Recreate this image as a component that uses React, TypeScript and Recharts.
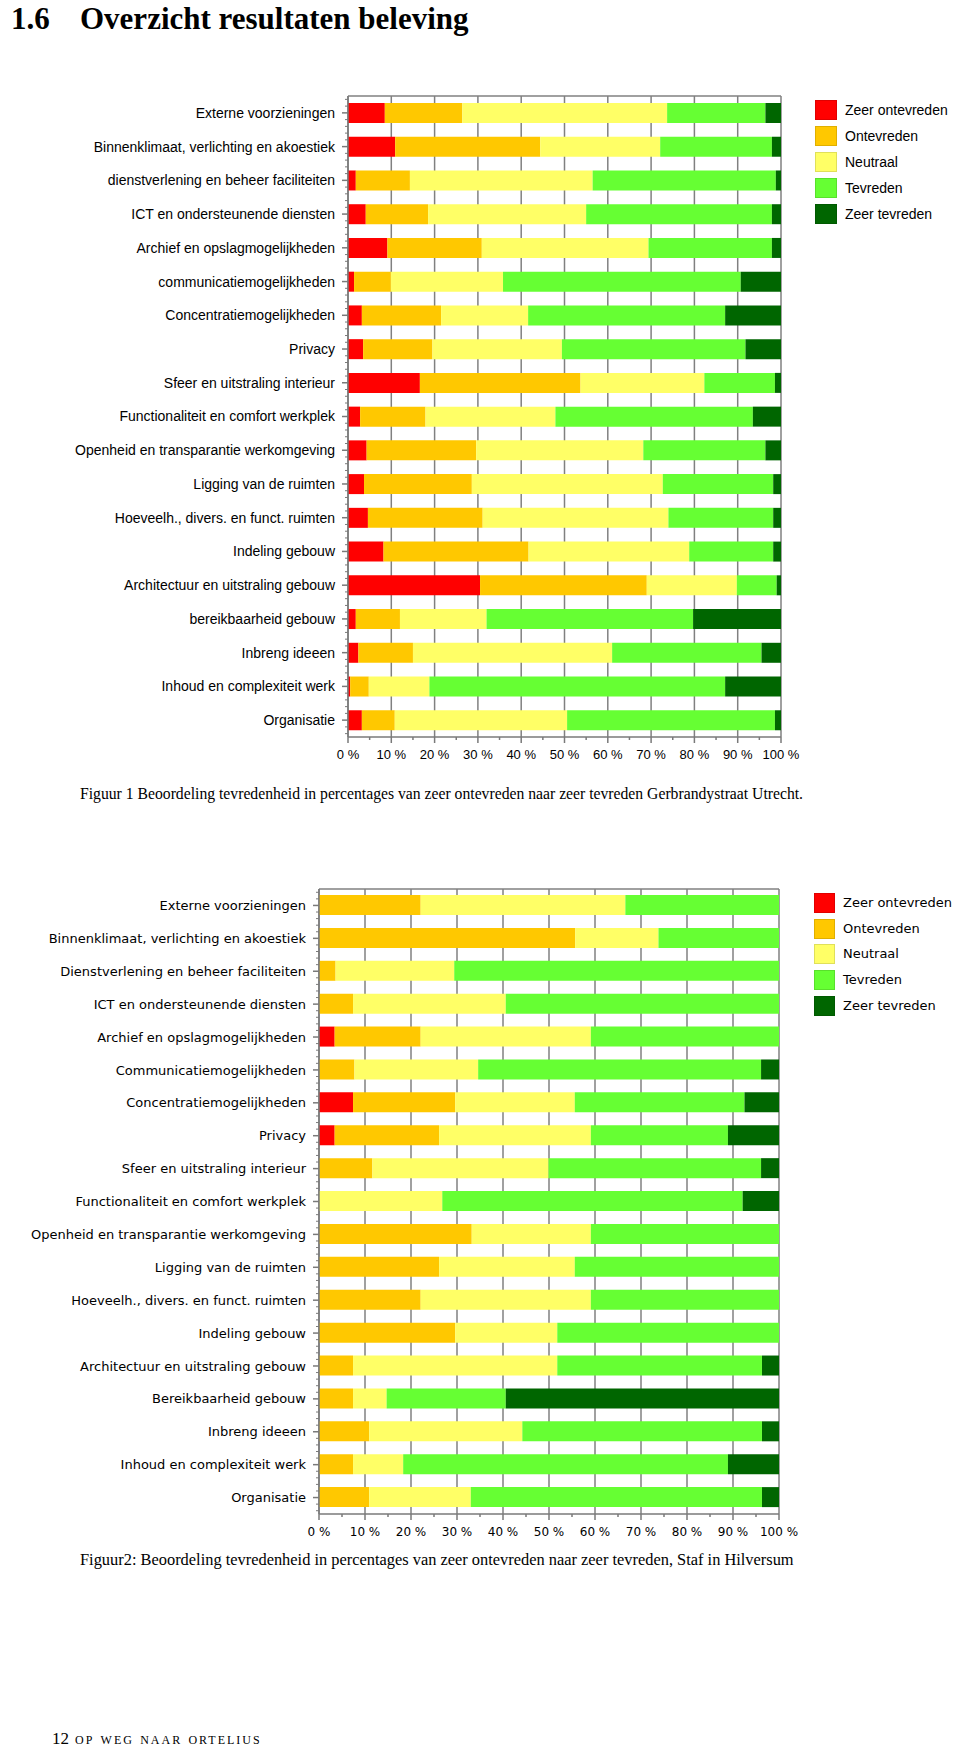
import React from 'react';
import { BarChart, Bar, XAxis, YAxis, CartesianGrid } from 'recharts';

// ---------- Data: Figuur 1 (Gerbrandystraat Utrecht) ----------
const categories1 = [
  'Externe voorzieningen',
  'Binnenklimaat, verlichting en akoestiek',
  'dienstverlening en beheer faciliteiten',
  'ICT en ondersteunende diensten',
  'Archief en opslagmogelijkheden',
  'communicatiemogelijkheden',
  'Concentratiemogelijkheden',
  'Privacy',
  'Sfeer en uitstraling interieur',
  'Functionaliteit en comfort werkplek',
  'Openheid en transparantie werkomgeving',
  'Ligging van de ruimten',
  'Hoeveelh., divers. en funct. ruimten',
  'Indeling gebouw',
  'Architectuur en uitstraling gebouw',
  'bereikbaarheid gebouw',
  'Inbreng ideeen',
  'Inhoud en complexiteit werk',
  'Organisatie',
];
const zeerOntevreden1 = [8.5, 10.9, 1.8, 4.1, 9.1, 1.4, 3.2, 3.5, 16.6, 2.8, 4.3, 3.7, 4.6, 8.2, 30.5, 1.8, 2.4, 0.5, 3.2];
const ontevreden1 = [17.9, 33.5, 12.5, 14.4, 21.8, 8.5, 18.3, 16.0, 37.1, 15.1, 25.3, 24.9, 26.5, 33.5, 38.5, 10.2, 12.6, 4.3, 7.6];
const neutraal1 = [47.3, 27.7, 42.2, 36.5, 38.5, 25.9, 20.1, 29.9, 28.6, 30.0, 38.6, 44.1, 42.9, 37.1, 20.8, 20.0, 46.0, 14.0, 39.8];
const tevreden1 = [22.7, 25.8, 42.3, 42.9, 28.5, 54.9, 45.5, 42.4, 16.3, 45.6, 28.2, 25.5, 24.2, 19.4, 9.2, 47.7, 34.5, 68.3, 48.0];
const zeerTevreden1 = [3.6, 2.1, 1.2, 2.1, 2.1, 9.3, 12.9, 8.2, 1.4, 6.5, 3.6, 1.8, 1.8, 1.8, 1.0, 20.3, 4.5, 12.9, 1.4];

// ---------- Data: Figuur 2 (Staf in Hilversum) ----------
const categories2 = [
  'Externe voorzieningen',
  'Binnenklimaat, verlichting en akoestiek',
  'Dienstverlening en beheer faciliteiten',
  'ICT en ondersteunende diensten',
  'Archief en opslagmogelijkheden',
  'Communicatiemogelijkheden',
  'Concentratiemogelijkheden',
  'Privacy',
  'Sfeer en uitstraling interieur',
  'Functionaliteit en comfort werkplek',
  'Openheid en transparantie werkomgeving',
  'Ligging van de ruimten',
  'Hoeveelh., divers. en funct. ruimten',
  'Indeling gebouw',
  'Architectuur en uitstraling gebouw',
  'Bereikbaarheid gebouw',
  'Inbreng ideeen',
  'Inhoud en complexiteit werk',
  'Organisatie',
];
const zeerOntevreden2 = [0, 0, 0, 0, 3.4, 0, 7.4, 3.4, 0, 0, 0, 0, 0, 0, 0, 0, 0, 0, 0];
const ontevreden2 = [22.1, 55.7, 3.6, 7.4, 18.7, 7.7, 22.2, 22.7, 11.6, 0, 33.2, 26.1, 22.1, 29.6, 7.4, 7.4, 10.9, 7.4, 10.9];
const neutraal2 = [44.5, 18.1, 25.8, 33.2, 37.0, 26.9, 26.0, 33.0, 38.3, 26.8, 25.9, 29.5, 37.0, 22.2, 44.4, 7.3, 33.3, 10.9, 22.1];
const tevreden2 = [33.4, 26.2, 70.6, 59.4, 40.9, 61.5, 36.9, 29.8, 46.2, 65.3, 40.9, 44.4, 40.9, 48.2, 44.5, 25.9, 52.1, 70.6, 63.3];
const zeerTevreden2 = [0, 0, 0, 0, 0, 3.9, 7.5, 11.1, 3.9, 7.9, 0, 0, 0, 0, 3.7, 59.4, 3.7, 11.1, 3.7];

// ---------- Axis ticks / series ----------
const xMajorTicks = [0, 10, 20, 30, 40, 50, 60, 70, 80, 90, 100];
const xAllTicks = [0, 5, 10, 15, 20, 25, 30, 35, 40, 45, 50, 55, 60, 65, 70, 75, 80, 85, 90, 95, 100];
const seriesNames = ['Zeer ontevreden', 'Ontevreden', 'Neutraal', 'Tevreden', 'Zeer tevreden'];
const seriesKeys = ['zo', 'o', 'n', 't', 'zt'];
const seriesColors = ['#FF0000', '#FFC800', '#FFFF66', '#66FF33', '#006600'];

const buildRows = (
  cats: string[],
  a: number[],
  b: number[],
  c: number[],
  d: number[],
  e: number[]
) => cats.map((name, i) => ({ name, zo: a[i], o: b[i], n: c[i], t: d[i], zt: e[i] }));

const rows1 = buildRows(categories1, zeerOntevreden1, ontevreden1, neutraal1, tevreden1, zeerTevreden1);
const rows2 = buildRows(categories2, zeerOntevreden2, ontevreden2, neutraal2, tevreden2, zeerTevreden2);

const AXIS_GRAY = '#7a7a7a';
const GRID_GRAY = '#808080';
const LINE_W = 1.5;

const makeXTick = (fontFamily: string, fontSize: number) => (props: any) => {
  const { x, y, payload } = props;
  const major = payload.value % 10 === 0;
  return (
    <g>
      <line x1={x} x2={x} y1={y} y2={y + (major ? 6 : 3)} stroke={AXIS_GRAY} strokeWidth={LINE_W} />
      {major && (
        <text x={x} y={y + 22} textAnchor="middle" fill="#000" fontFamily={fontFamily} fontSize={fontSize}>
          {`${payload.value} %`}
        </text>
      )}
    </g>
  );
};

const EmptyTick = () => <g />;

const TICK_SIZE = 6;
const TICK_MARGIN = 7;

const makeYTick = (fontFamily: string, fontSize: number, band: number) => (props: any) => {
  const { x, y, payload } = props;
  const ax = x + TICK_SIZE + TICK_MARGIN;
  const step = band / 5;
  return (
    <g>
      <line x1={ax - TICK_SIZE} x2={ax} y1={y} y2={y} stroke={AXIS_GRAY} strokeWidth={LINE_W} />
      {[-2, -1, 1, 2].map((k) => (
        <line key={k} x1={ax - 3} x2={ax} y1={y + k * step} y2={y + k * step} stroke={AXIS_GRAY} />
      ))}
      <text x={x} y={y} dy="0.355em" textAnchor="end" fill="#000" fontFamily={fontFamily} fontSize={fontSize}>
        {payload.value}
      </text>
    </g>
  );
};

type ChartProps = {
  rows: any[];
  n: number;
  width: number;
  height: number;
  margin: { top: number; right: number; bottom: number; left: number };
  yWidth: number;
  fontFamily: string;
  fontSize: number;
  top: number;
};

const X_AXIS_H = 30;

const StackedChart = ({ rows, n, width, height, margin, yWidth, fontFamily, fontSize, top }: ChartProps) => {
  const plotH = height - margin.top - 1 - margin.bottom - X_AXIS_H;
  const band = plotH / n;
  return (
    <div style={{ position: 'absolute', left: 0, top, width, height }}>
      <BarChart width={width} height={height} data={rows} layout="vertical" margin={margin}>
        <CartesianGrid
          xAxisId="bottom"
          yAxisId="cat"
          horizontal={false}
          stroke={GRID_GRAY}
          strokeWidth={LINE_W}
          verticalValues={xMajorTicks}
        />
        <XAxis
          xAxisId="top"
          orientation="top"
          type="number"
          domain={[0, 100]}
          ticks={xMajorTicks}
          interval={0}
          height={1}
          tickSize={0}
          tickMargin={0}
          tick={EmptyTick}
          tickLine={false}
          axisLine={{ stroke: GRID_GRAY, strokeWidth: LINE_W }}
        />
        <XAxis
          xAxisId="bottom"
          orientation="bottom"
          type="number"
          domain={[0, 100]}
          ticks={xAllTicks}
          interval={0}
          height={X_AXIS_H}
          tickSize={0}
          tickMargin={0}
          tickLine={false}
          axisLine={{ stroke: AXIS_GRAY, strokeWidth: LINE_W }}
          tick={makeXTick(fontFamily, fontSize - 1)}
        />
        <YAxis
          yAxisId="cat"
          type="category"
          dataKey="name"
          width={yWidth}
          interval={0}
          tickSize={TICK_SIZE}
          tickMargin={TICK_MARGIN}
          axisLine={{ stroke: AXIS_GRAY, strokeWidth: LINE_W }}
          tickLine={false}
          tick={makeYTick(fontFamily, fontSize, band)}
        />
        {seriesKeys.map((k, i) => (
          <Bar
            key={k}
            dataKey={k}
            name={seriesNames[i]}
            stackId="s"
            xAxisId="bottom"
            yAxisId="cat"
            fill={seriesColors[i]}
            barSize={20}
            isAnimationActive={false}
          />
        ))}
      </BarChart>
    </div>
  );
};

const LegendBox = ({ left, top, rowH, boxW, boxH, textLeft, fontFamily, fontSize }: any) => (
  <div style={{ position: 'absolute', left, top }}>
    {seriesNames.map((name, i) => (
      <div key={name} style={{ position: 'relative', height: rowH }}>
        <div
          style={{
            position: 'absolute',
            left: 0,
            top: 0,
            width: boxW,
            height: boxH,
            background: seriesColors[i],
            boxSizing: 'border-box',
            border: '1px solid rgba(0,0,0,0.12)',
          }}
        />
        <div
          style={{
            position: 'absolute',
            left: textLeft,
            top: 0,
            height: boxH,
            lineHeight: `${boxH}px`,
            fontFamily,
            fontSize,
            whiteSpace: 'nowrap',
            color: '#000',
          }}
        >
          {name}
        </div>
      </div>
    ))}
  </div>
);

const serif = '"Liberation Serif", "Times New Roman", serif';

export default function App() {
  return (
    <div style={{ position: 'absolute', left: 0, top: 0, width: 960, height: 1750, background: '#fff', overflow: 'hidden' }}>
      {/* Heading */}
      <div style={{ position: 'absolute', left: 11, top: 3, fontFamily: serif, fontWeight: 'bold', fontSize: 31, lineHeight: '31px' }}>1.6</div>
      <div style={{ position: 'absolute', left: 80, top: 3, fontFamily: serif, fontWeight: 'bold', fontSize: 31, lineHeight: '31px', whiteSpace: 'nowrap' }}>
        Overzicht resultaten beleving
      </div>

      {/* Figuur 1 */}
      <StackedChart
        rows={rows1}
        n={categories1.length}
        width={960}
        height={790}
        top={0}
        margin={{ top: 95, right: 179, bottom: 23, left: 0 }}
        yWidth={348}
        fontFamily='"Liberation Sans", Arial, sans-serif'
        fontSize={14}
      />
      <LegendBox left={815} top={100} rowH={26} boxW={22} boxH={20} textLeft={30} fontFamily='"Liberation Sans", Arial, sans-serif' fontSize={14} />
      <div style={{ position: 'absolute', left: 80, top: 786, fontFamily: serif, fontSize: 15.7, lineHeight: '16px', whiteSpace: 'nowrap' }}>
        Figuur 1 Beoordeling tevredenheid in percentages van zeer ontevreden naar zeer tevreden Gerbrandystraat Utrecht.
      </div>

      {/* Figuur 2 */}
      <StackedChart
        rows={rows2}
        n={categories2.length}
        width={960}
        height={760}
        top={800}
        margin={{ top: 88, right: 181, bottom: 16, left: 0 }}
        yWidth={319}
        fontFamily='"DejaVu Sans", Verdana, sans-serif'
        fontSize={13}
      />
      <LegendBox left={814} top={893} rowH={25.7} boxW={21} boxH={20} textLeft={29} fontFamily='"DejaVu Sans", Verdana, sans-serif' fontSize={13} />
      <div style={{ position: 'absolute', left: 80, top: 1552, fontFamily: serif, fontSize: 16.4, lineHeight: '16px', whiteSpace: 'nowrap' }}>
        Figuur2: Beoordeling tevredenheid in percentages van zeer ontevreden naar zeer tevreden, Staf in Hilversum
      </div>

      {/* Footer */}
      <div style={{ position: 'absolute', left: 52, top: 1731, fontFamily: serif, fontSize: 17, lineHeight: '16px', whiteSpace: 'nowrap' }}>
        <span>12</span>
        <span style={{ fontVariant: 'small-caps', letterSpacing: 2, marginLeft: 6 }}>op weg naar ortelius</span>
      </div>
    </div>
  );
}
